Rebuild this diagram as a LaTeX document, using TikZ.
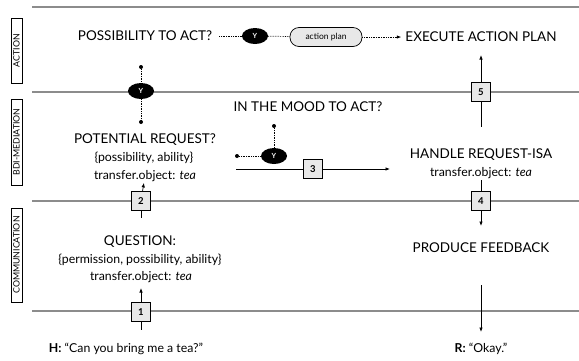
\documentclass[tikz,border=0pt]{standalone}
\usepackage{fontspec}
\setsansfont{Lato}
\usetikzlibrary{positioning}
\usetikzlibrary{arrows.meta}
\usetikzlibrary{shapes.geometric}
\definecolor{rl}{RGB}{140,140,140}
\definecolor{bx}{RGB}{232,232,232}

\begin{document}
\begin{tikzpicture}[
    x=1pt, y=-1pt,
    font=\sffamily,
    a/.style={
        line width=0.7pt,
        color=black,
    },
    l/.style={
        a,-{Latex[length=4.5pt,width=3.5pt]}
    },
    dt/.style={
        a, densely dotted
    },
    r/.style={
        color=rl, line width=1.5pt
    },
    m/.style={
        inner sep=1pt, font=\sffamily\fontsize{13.5}{15}\selectfont
    },
    s/.style={
        inner sep=1pt, font=\sffamily\fontsize{12.3}{14}\selectfont
    },
    b/.style={
        draw, fill=bx, line width=0.7pt, minimum size=19pt,
        inner sep=0pt, font=\sffamily\fontsize{9.5}{10}\selectfont\bfseries
    },
    yn/.style={
        ellipse, fill=black, text=white, minimum width=26pt,
        minimum height=16pt, inner sep=0pt,
        font=\sffamily\fontsize{7}{8}\selectfont\bfseries
    },
    k/.style={
        circle, fill=black, inner sep=0pt, minimum size=4pt
    },
    p/.style={
        draw, fill=bx, line width=0.7pt, rounded corners=9pt,
        minimum width=72pt, minimum height=19pt,
        font=\sffamily\fontsize{8.5}{9}\selectfont
    },
    t/.style={
        draw, line width=0.7pt, rotate=90, minimum height=11pt,
        inner sep=1pt, font=\sffamily\fontsize{8.8}{9}\selectfont
    }
]

    \useasboundingbox (0,0) rectangle (579,360);

    % lanes
    \draw [r] (32,  7) -- (579,  7);
    \draw [r] (32, 92) -- (579, 92);
    \draw [r] (32,201) -- (579,201);
    \draw [r] (32,311) -- (579,311);

    \node [t, minimum width=65pt] (ta) at (16.5, 50.5) {ACTION};
    \node [t, minimum width=86pt] (tb) at (16.5, 142) {BDI-MEDIATION};
    \node [t, minimum width=94pt] (tc) at (16.5, 255) {COMMUNICATION};

    % action
    \node [m]  (poss) at (145, 36) {POSSIBILITY TO ACT?};
    \node [yn] (y1)   at (255, 36) {Y};
    \node [p]  (plan) at (326, 37) {action plan};
    \node [m]  (exec) at (481, 37) {EXECUTE ACTION PLAN};

    \draw (poss) -- (y1) [dt, shorten <=6pt];
    \draw (y1) -- (plan) [dt];
    \draw (plan) -- (exec) [dt, -{Latex[length=4.5pt,width=3.5pt]}, shorten >=3pt];

    \node [k]  (k1) at (141,  67) {};
    \node [yn] (y2) at (141,  91) {Y};
    \node [k]  (k2) at (141, 122) {};
    \draw (k1) -- (y2) [dt];
    \draw (y2) -- (k2) [dt];

    % bdi-mediation
    \node [m] (pot)  at (145, 140) {POTENTIAL REQUEST?};
    \node [s] (pot2) at (144, 158) {\{possibility, ability\}};
    \node [s] (pot3) at (145, 176) {transfer.object: \textit{tea}};

    \node [m]  (mood) at (308, 107) {IN THE MOOD TO ACT?};
    \node [k]  (k3)   at (274, 126) {};
    \node [yn] (y3)   at (274, 156) {Y};
    \node [k]  (k4)   at (237, 156) {};
    \draw (k3) -- (y3) [dt];
    \draw (k4) -- (y3) [dt];

    \coordinate (c3a) at (236, 169);
    \coordinate (c3b) at (390, 169);
    \node [b] (n3) at (313, 169) {3};
    \draw (c3a) -- (n3) [a];
    \draw (n3) -- (c3b) [l];

    \node [m] (hand)  at (481, 155) {HANDLE REQUEST-ISA};
    \node [s] (hand2) at (481, 173) {transfer.object: \textit{tea}};

    \coordinate (c5a) at (481,  55);
    \coordinate (c5b) at (481, 127);
    \node [b] (n5) at (481, 92) {5};
    \draw (n5) -- (c5a) [l];
    \draw (n5) -- (c5b) [a];

    % communication
    \node [b] (n2) at (141, 201) {2};
    \coordinate (c2) at (141, 218);
    \draw (n2) -- (pot3) [l];
    \draw (n2) -- (c2) [a];

    \node [m] (q1) at (140, 242) {QUESTION:};
    \node [s] (q2) at (140, 260) {\{permission, possibility, ability\}};
    \node [s] (q3) at (141, 277) {transfer.object: \textit{tea}};

    \coordinate (c4a) at (481, 180);
    \coordinate (c4b) at (481, 226);
    \node [b] (n4) at (481, 201) {4};
    \draw (c4a) -- (n4) [a];
    \draw (n4) -- (c4b) [l];

    \node [m] (feed) at (481, 248) {PRODUCE FEEDBACK};
    \coordinate (c6a) at (481, 285);
    \coordinate (c6b) at (481, 332);
    \draw (c6a) -- (c6b) [l];

    \coordinate (c1a) at (141, 288);
    \coordinate (c1b) at (141, 330);
    \node [b] (n1) at (141, 312) {1};
    \draw (n1) -- (c1a) [l];
    \draw (n1) -- (c1b) [a];

    % utterances
    \node [s] (hq)   at (126, 349) {\textbf{H:} “Can you bring me a tea?”};
    \node [s] (okay) at (481, 349) {\textbf{R:} “Okay.”};

\end{tikzpicture}
\end{document}
